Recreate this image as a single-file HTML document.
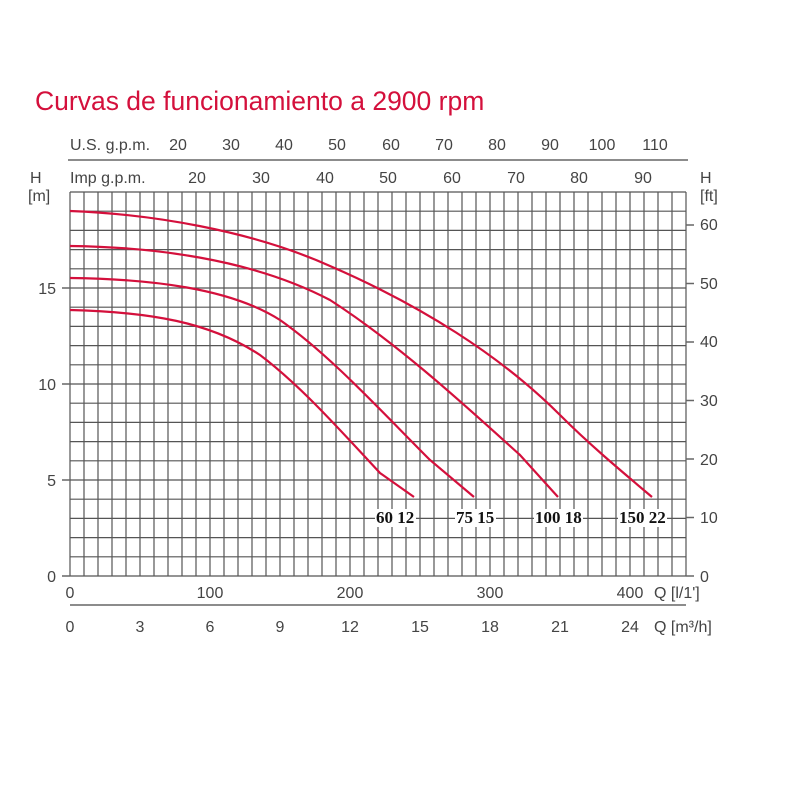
<!DOCTYPE html><html><head><style>body{margin:0;background:#fff}</style></head><body>
<svg width="800" height="800" xmlns="http://www.w3.org/2000/svg" font-family="Liberation Sans, sans-serif">
<rect width="800" height="800" fill="#fff"/>
<text x="35" y="110" font-size="26.5" fill="#d4103c">Curvas de funcionamiento a 2900 rpm</text>
<path stroke="#555" stroke-width="1.2" fill="none" d="M70,192V576M84,192V576M98,192V576M112,192V576M126,192V576M140,192V576M154,192V576M168,192V576M182,192V576M196,192V576M210,192V576M224,192V576M238,192V576M252,192V576M266,192V576M280,192V576M294,192V576M308,192V576M322,192V576M336,192V576M350,192V576M364,192V576M378,192V576M392,192V576M406,192V576M420,192V576M434,192V576M448,192V576M462,192V576M476,192V576M490,192V576M504,192V576M518,192V576M532,192V576M546,192V576M560,192V576M574,192V576M588,192V576M602,192V576M616,192V576M630,192V576M644,192V576M658,192V576M672,192V576M686,192V576
M70,192H686M70,211.2H686M70,230.4H686M70,249.6H686M70,268.8H686M70,288H686M70,307.2H686M70,326.4H686M70,345.6H686M70,364.8H686M70,384H686M70,403.2H686M70,422.4H686M70,441.6H686M70,460.8H686M70,480H686M70,499.2H686M70,518.4H686M70,537.6H686M70,556.8H686M70,576H686"/>
<g stroke="#666" stroke-width="1.5">
<line x1="68" y1="160" x2="688" y2="160"/>
<line x1="70" y1="605" x2="686" y2="605"/>
<line x1="62" y1="288" x2="70" y2="288"/><line x1="62" y1="384" x2="70" y2="384"/><line x1="62" y1="480" x2="70" y2="480"/><line x1="62" y1="576" x2="70" y2="576"/>
</g>
<g fill="#444" font-size="16">
<text x="70" y="150">U.S. g.p.m.</text>
<text x="70" y="183">Imp g.p.m.</text>
<text x="30" y="183">H</text><text x="28" y="201">[m]</text>
<text x="700" y="183">H</text><text x="700" y="201">[ft]</text>
<g text-anchor="middle">
<text x="178" y="150">20</text><text x="231" y="150">30</text><text x="284" y="150">40</text><text x="337" y="150">50</text><text x="391" y="150">60</text><text x="444" y="150">70</text><text x="497" y="150">80</text><text x="550" y="150">90</text><text x="602" y="150">100</text><text x="655" y="150">110</text>
<text x="197" y="183">20</text><text x="261" y="183">30</text><text x="325" y="183">40</text><text x="388" y="183">50</text><text x="452" y="183">60</text><text x="516" y="183">70</text><text x="579" y="183">80</text><text x="643" y="183">90</text>
<text x="70" y="598">0</text><text x="210" y="598">100</text><text x="350" y="598">200</text><text x="490" y="598">300</text><text x="630" y="598">400</text>
<text x="70" y="632">0</text><text x="140" y="632">3</text><text x="210" y="632">6</text><text x="280" y="632">9</text><text x="350" y="632">12</text><text x="420" y="632">15</text><text x="490" y="632">18</text><text x="560" y="632">21</text><text x="630" y="632">24</text>
</g>
<text x="654" y="598">Q [l/1']</text>
<text x="654" y="632">Q [m³/h]</text>
<g text-anchor="end"><text x="56" y="294">15</text><text x="56" y="390">10</text><text x="56" y="486">5</text><text x="56" y="582">0</text></g>
<text x="700" y="582">0</text><text x="700" y="523">10</text><text x="700" y="465">20</text><text x="700" y="406">30</text><text x="700" y="347">40</text><text x="700" y="289">50</text><text x="700" y="230">60</text>
</g>
<g stroke="#666" stroke-width="1.5">
<line x1="686" y1="576" x2="694" y2="576"/><line x1="686" y1="517.5" x2="694" y2="517.5"/><line x1="686" y1="459" x2="694" y2="459"/><line x1="686" y1="400.5" x2="694" y2="400.5"/><line x1="686" y1="342" x2="694" y2="342"/><line x1="686" y1="283.5" x2="694" y2="283.5"/><line x1="686" y1="225" x2="694" y2="225"/>
</g>
<g fill="none" stroke="#d4103c" stroke-width="2.2">
<path d="M70,310 C150,312 210,322 260,355 C300,385 340,430 380,473 L414,497"/>
<path d="M70,278 C150,279 230,288 280,320 C330,355 380,410 430,460 L474,497"/>
<path d="M70,246 C150,247 250,258 330,300 C400,345 470,410 520,455 L558,497"/>
<path d="M70,211 C150,214 250,230 330,266 C420,305 500,355 560,415 C590,445 620,470 652,497"/>
</g>
<g fill="#fff"><rect x="375" y="509" width="41" height="18"/><rect x="455" y="509" width="41" height="18"/><rect x="534" y="509" width="49" height="18"/><rect x="618" y="509" width="49" height="18"/></g>
<g font-family="Liberation Serif, serif" font-weight="bold" font-size="17" fill="#111">
<text x="376" y="523">60 12</text><text x="456" y="523">75 15</text><text x="535" y="523">100 18</text><text x="619" y="523">150 22</text>
</g>
</svg></body></html>
